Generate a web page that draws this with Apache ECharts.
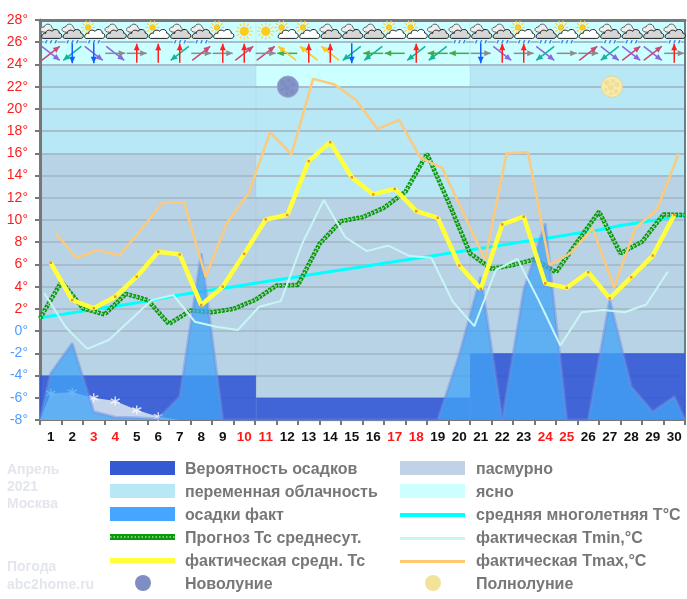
<!DOCTYPE html>
<html><head><meta charset="utf-8">
<style>html,body{margin:0;padding:0;background:#fff}#c{width:687px;height:599px}</style>
<script src="https://cdn.jsdelivr.net/npm/echarts@6/dist/echarts.min.js"></script>
</head><body><div id="c"></div>
<script>
const days=[1,2,3,4,5,6,7,8,9,10,11,12,13,14,15,16,17,18,19,20,21,22,23,24,25,26,27,28,29,30];
const redDays=[3,4,10,11,17,18,24,25];
const tMean=[6.15,2.8,2.05,3.1,4.9,7.15,6.9,2.35,4,6.95,10.05,10.45,15.3,17,13.85,12.3,12.8,10.8,10.2,5.9,3.8,9.6,10.3,4.3,3.9,5.3,2.95,4.85,6.8,10.45];
const tMax=[8.85,6.6,7.3,6.8,9.15,11.55,11.6,4.9,9.75,12.4,17.9,15.9,22.7,22.2,20.8,18.2,19,15.6,14.7,10.6,6.4,16,16.1,5.95,7.05,9.25,3.95,9.3,10.95,15.95];
const tMin=[3.4,0.35,-1.6,-0.8,1,2.8,3.25,0.85,0.4,0.1,2.2,2.7,7.9,11.8,8.45,7.2,7.7,6.75,6.6,2.65,0.45,5.5,6.5,2.75,-1.3,1.7,1.9,1.7,2.4,5.35];
const forecast=[1.15,4.45,2.05,1.5,3.35,2.8,0.65,1.85,1.7,2,2.8,4.1,4.15,7.85,9.9,10.25,11.1,12.55,15.95,11.6,7,5.6,5.95,6.45,5.3,8.05,10.75,7,8.05,10.5,10.45];
const normal=[1.2,1.5,1.8,2.1,2.4,2.7,3.1,3.4,3.7,4,4.3,4.6,4.9,5.2,5.5,5.8,6.1,6.4,6.7,7,7.3,7.6,7.9,8.2,8.5,8.8,9.1,9.5,9.8,10.1,10.4];
const rain=[-3.8,-1.1,-7.25,-7.75,-7.8,-7.9,-5.9,7,-8,-8,-8,-8,-8,-8,-8,-8,-8,-8,-8,-2.15,4.9,-8,3.7,9.7,-8,-8,2.8,-5,-7.25,-5.9];
const snow=[-5.6,-5.5,-6,-6.3,-7.1,-7.7,-8];
const sky=['c','c','p','c','c','p','c','c','p','s','s','p','p','c','c','c','p','p','c','c','c','c','p','c','p','p','c','c','c','c'];
const wet=[1,1,1,0,0,0,1,1,0,0,0,0,0,0,0,0,0,0,0,1,1,1,1,1,1,0,1,1,0,1];
const windA=['NE','S','S','E','N','N','N','NE','N','N','E','NW','N','N','S','W','W','N','W','W','S','N','N','SW','E','NE','SW','NE','NE','N'];
const windB=['SE','SW','SE','SE','E','','SW','E','E','NE','NE','W','NW','NW','SW','SW','','SW','SW','','E','SE','E','SE','','E','SE','SE','SE','E'];
const decadeEdges=[0,10.05,20,30];
const clearFloor=[24,22,24];
const partlyFloor=[16,12,14];
const overcastFloor=[-4,-6,-2];
const newMoon=[[11.53,22]];
const fullMoon=[[26.6,22]];
const yMin=-8,yMax=28;

const font='"Liberation Sans",Arial,sans-serif';
const C={dark:'#3359d4',over:'#b8d3e6',part:'#b8e8f6',clear:'#ccffff',rain:'#43a4f6',fc:'#0a9a0a',fc2:'#b6dcc0',norm:'#00ffff',tmin:'#c8f6f6',tmax:'#fcca7c',mean:'#ffff3c',grey:'#777',faint:'#e4e6ee'};
const windCol={N:'#ff2020',NE:'#c84a78',E:'#8c8c8c',SE:'#8a66e0',S:'#1060ff',SW:'#14b496',W:'#44aa44',NW:'#ffc820'};
const windVec={N:[0,-9.5],NE:[9,-7],E:[10,0],SE:[9,7],S:[0,10],SW:[-9,7],W:[-10,0],NW:[-9,-7]};

const bands=[];
for(let i=0;i<3;i++){
  bands.push([decadeEdges[i],decadeEdges[i+1],yMax,clearFloor[i],C.clear]);
  bands.push([decadeEdges[i],decadeEdges[i+1],clearFloor[i],partlyFloor[i],C.part]);
  bands.push([decadeEdges[i],decadeEdges[i+1],partlyFloor[i],overcastFloor[i],C.over]);
}
const darkBands=[0,1,2].map(i=>[decadeEdges[i],decadeEdges[i+1],overcastFloor[i],yMin,C.dark]);
function bandItem(p,api){
  const d=(p.seriesIndex===0?bands:darkBands)[p.dataIndex];
  const a=api.coord([d[0],d[2]]),b=api.coord([d[1],d[3]]);
  return {type:'rect',shape:{x:a[0],y:a[1],width:b[0]-a[0],height:b[1]-a[1]},style:{fill:d[4],opacity:p.seriesIndex===0?1:0.93}};
}
function seamItem(p,api){
  const a=api.coord([api.value(0),yMax]),b=api.coord([api.value(0),yMin]);
  return {type:'line',shape:{x1:a[0],y1:a[1],x2:b[0],y2:b[1]},style:{stroke:'rgba(130,165,190,.2)',lineWidth:1}};
}
const cloudFront='M-8,6.5 L9,6.5 C12.5,6.5 12.5,1 9,1 C9,-3.5 3,-4 1.5,-1 C-1.5,-3.5 -6,-1.5 -5,1 C-9.5,0.5 -11,6.5 -8,6.5 Z';
const cloudBack='M-6,0 C-12.5,0 -12,-5.5 -7,-5.5 C-6,-9.5 0,-9.5 1,-5.5 C2,-4 3,-3 3,-2 L-4,2 Z';
function sunParts(cx,cy,r,n,len){
  const out=[{type:'circle',shape:{cx,cy,r},style:{fill:'#ffcc1c',stroke:'#ffb000',lineWidth:.5}}];
  for(let k=0;k<n;k++){const t=k/n*Math.PI*2;
    out.push({type:'line',shape:{x1:cx+Math.cos(t)*(r+1.5),y1:cy+Math.sin(t)*(r+1.5),x2:cx+Math.cos(t)*(r+1.5+len),y2:cy+Math.sin(t)*(r+1.5+len)},style:{stroke:'#ffd23c',lineWidth:1.2}});}
  return out;
}
function iconItem(p,api){
  const c=api.coord([api.value(0),api.value(1)]),k=sky[p.dataIndex],ch=[];
  if(k==='s'){ch.push(...sunParts(0,-1,4.5,12,3));}
  else if(k==='p'){
    ch.push(...sunParts(-6,-5,3,10,3));
    ch.push({type:'path',shape:{pathData:cloudFront},style:{fill:'#fff',stroke:'#111',lineWidth:1}});
  } else {
    ch.push({type:'path',shape:{pathData:cloudBack},style:{fill:'#eee',stroke:'#555',lineWidth:1}});
    ch.push({type:'path',shape:{pathData:cloudFront},style:{fill:'#d6d6d6',stroke:'#111',lineWidth:1}});
  }
  if(wet[p.dataIndex]){
    ch.push({type:'rect',shape:{x:-7,y:8,width:14,height:4},style:{fill:'#d4f4fa'}});
    [-5,0,5].forEach(dx=>ch.push({type:'line',shape:{x1:dx+1,y1:8.4,x2:dx-.5,y2:11.6},style:{stroke:'#1a86ea',lineWidth:1.5}}));
  }
  return {type:'group',x:c[0],y:c[1],scaleX:.95,scaleY:.95,children:ch};
}
function arrow(dir){
  const v=windVec[dir],col=windCol[dir],L=Math.hypot(v[0],v[1]),u=[v[0]/L,v[1]/L],n=[-u[1],u[0]];
  const bx=v[0]-u[0]*6.5,by=v[1]-u[1]*6.5;
  return [{type:'line',shape:{x1:-v[0],y1:-v[1],x2:v[0],y2:v[1]},style:{stroke:col,lineWidth:1.5}},
   {type:'polygon',shape:{points:[[v[0],v[1]],[bx+n[0]*3,by+n[1]*3],[bx-n[0]*3,by-n[1]*3]]},style:{fill:col}}];
}
function windItem(p,api){
  const c=api.coord([api.value(0),api.value(1)]),i=p.dataIndex,ch=[];
  if(windB[i])ch.push(...arrow(windB[i]));
  if(windA[i])ch.push(...arrow(windA[i]));
  return {type:'group',x:c[0],y:c[1],children:ch};
}
const moonBlobs=[[-5,-4,2.6],[1,-6,2],[5,-2,2.4],[-1,1,2.8],[-6,3,1.8],[4,5,2.2],[-1,7,1.6]];
function moonItem(base,edge,blob,alpha){
  return (p,api)=>{
    const c=api.coord([api.value(0),api.value(1)]);
    const ch=[{type:'circle',shape:{cx:0,cy:0,r:10.7},style:{fill:base,stroke:edge,lineWidth:.8}}];
    moonBlobs.forEach(b=>ch.push({type:'circle',shape:{cx:b[0],cy:b[1],r:b[2]},style:{fill:blob,opacity:alpha}}));
    return {type:'group',x:c[0],y:c[1],children:ch};
  };
}
const at=(arr,off)=>arr.map((v,i)=>[i+off,v]);
const snowPts=[[0,yMin],...at(snow,.5)];
const rainPts=[[0,yMin],...at(rain,.5),[30,yMin]];
const lineBase={type:'line',showSymbol:false,silent:true,clip:true};
const snowFlake='path://M5,0 L5,10 M0.7,2.5 L9.3,7.5 M0.7,7.5 L9.3,2.5';

const legendL=[['Вероятность осадков',470],['переменная облачность',493],['осадки факт',516],['Прогноз Тс среднесут.',539],['фактическая средн. Тс',562],['Новолуние',585]];
const legendR=[['пасмурно',470],['ясно',493],['средняя многолетняя Т°С',516],['фактическая Tmin,°C',539],['фактическая Tmax,°C',562],['Полнолуние',585]];
const sideText=[['Апрель',470],['2021',487],['Москва',504],['Погода',567],['abc2home.ru',585]];
const g=[];
const txt=(t,x,y,fill)=>({type:'text',z:50,style:{text:t,x,y,fill,font:'bold 16px '+font,textVerticalAlign:'middle'}});
legendL.forEach(r=>g.push(txt(r[0],185,r[1],C.grey)));
legendR.forEach(r=>g.push(txt(r[0],476,r[1],C.grey)));
sideText.forEach(r=>g.push({type:'text',z:50,style:{text:r[0],x:7,y:r[1],fill:C.faint,font:'bold 14px '+font,textVerticalAlign:'middle'}}));
const rect=(x,y,w,h,fill)=>({type:'rect',z:50,shape:{x,y,width:w,height:h},style:{fill}});
g.push(rect(110,461,65,14,C.dark),rect(110,484,65,14,C.part),rect(110,507,65,14,'#45a5ff'));
g.push(rect(400,461,65,14,'#bfd2e6'),rect(400,484,65,14,C.clear));
g.push(rect(110,534,65,6,C.fc),{type:'line',z:51,shape:{x1:110,y1:537,x2:175,y2:537},style:{stroke:'#9fdca8',lineWidth:1.5,lineDash:[1.5,2]}});
g.push(rect(110,558,65,5,C.mean));
g.push(rect(400,513,65,4,C.norm),rect(400,537,65,3,C.tmin),rect(400,560,65,3,'#ffc870'));
g.push({type:'circle',z:50,shape:{cx:143,cy:583,r:8},style:{fill:'#7e8ec2'}},{type:'circle',z:50,shape:{cx:433,cy:583,r:8},style:{fill:'#f3e39a'}});

const option={
  animation:false,backgroundColor:'#fff',textStyle:{fontFamily:font},
  grid:{left:40,top:20,width:645,height:400,containLabel:false},
  xAxis:[
    {type:'value',min:0,max:30,interval:1,position:'bottom',z:2,splitLine:{show:false},
     axisLabel:{show:false},axisLine:{onZero:false,lineStyle:{color:C.grey,width:2}},axisTick:{length:5,lineStyle:{color:C.grey,width:2}}},
    {type:'category',data:days,position:'bottom',z:2,axisLine:{show:false,onZero:false},axisTick:{show:false},
     axisLabel:{interval:0,margin:10,fontSize:13.5,fontWeight:'bold',fontFamily:font,color:v=>redDays.includes(+v)?'#ff1818':'#111'}},
    {type:'value',min:0,max:30,position:'top',z:2,splitLine:{show:false},axisLabel:{show:false},axisTick:{show:false},
     axisLine:{onZero:false,lineStyle:{color:C.grey,width:3}}}
  ],
  yAxis:[
    {type:'value',min:yMin,max:yMax,interval:2,z:2,position:'left',
     axisLine:{show:true,onZero:false,lineStyle:{color:C.grey,width:3}},
     axisTick:{show:true,length:5,lineStyle:{color:C.grey,width:2}},
     splitLine:{show:true,lineStyle:{color:'#a8bdcb',width:2}},
     axisLabel:{margin:12,fontSize:14,fontFamily:font,formatter:v=>v+'°',color:v=>+v>0?'#ff1c1c':'#4f9dff'}},
    {type:'value',min:yMin,max:yMax,interval:2,z:2,position:'right',splitLine:{show:false},axisLabel:{show:false},axisTick:{show:false},
     axisLine:{show:true,onZero:false,lineStyle:{color:'#66808a',width:2}}}
  ],
  graphic:{elements:g},
  series:[
    {type:'custom',z:1,silent:true,renderItem:bandItem,data:bands.map(b=>[b[0],b[2]])},
    {type:'custom',z:3,silent:true,renderItem:bandItem,data:darkBands.map(b=>[b[0],b[2]])},
    {type:'custom',z:3,silent:true,renderItem:seamItem,data:decadeEdges.slice(1,3).map(e=>[e,yMin])},
    {...lineBase,z:4,data:at(normal,0),lineStyle:{color:C.norm,width:3}},
    {...lineBase,z:5,data:at(forecast,0),lineStyle:{color:C.fc,width:4.5,type:[3,1]}},
    {...lineBase,z:6,data:at(forecast,0),lineStyle:{color:C.fc2,width:1.2,type:[1.5,2.5]}},
    {...lineBase,z:7,data:snowPts,lineStyle:{width:0,opacity:0},areaStyle:{color:'#c6d4ec',opacity:1,origin:'start'}},
    {type:'scatter',z:8,silent:true,data:at(snow.slice(0,6),.5),symbol:snowFlake,symbolSize:9,clip:false,itemStyle:{color:'#fff',borderColor:'#fff',borderWidth:1.4}},
    {...lineBase,z:9,data:rainPts,lineStyle:{color:'#6f90e0',width:3,opacity:.45},areaStyle:{color:C.rain,opacity:.76,origin:'start'}},
    {...lineBase,z:10,data:at(tMin,.2),lineStyle:{color:C.tmin,width:2}},
    {...lineBase,z:11,data:at(tMax,.7),lineStyle:{color:C.tmax,width:2.5}},
    {...lineBase,z:12,showSymbol:true,symbol:'rect',symbolSize:2.5,data:at(tMean,.5),itemStyle:{color:'#f09030'},lineStyle:{color:C.mean,width:4.5}},
    {type:'custom',z:13,silent:true,renderItem:moonItem('#8494c6','#9aa6ce','#6676b0',.22),data:newMoon},
    {type:'custom',z:13,silent:true,renderItem:moonItem('#f8eaa8','#d9cf9f','#e6cf88',.45),data:fullMoon},
    {type:'custom',z:14,silent:true,clip:false,renderItem:iconItem,data:days.map((d,i)=>[i+.5,26.9])},
    {type:'custom',z:14,silent:true,clip:false,renderItem:windItem,data:days.map((d,i)=>[i+.5,25])}
  ]
};
const chart=echarts.init(document.getElementById('c'),null,{renderer:'canvas',width:687,height:599});
chart.setOption(option);
</script></body></html>
